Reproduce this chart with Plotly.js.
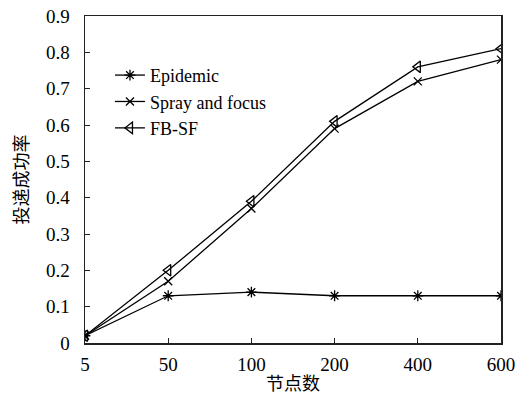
<!DOCTYPE html>
<html><head><meta charset="utf-8">
<script src="https://cdn.plot.ly/plotly-3.0.1.min.js"></script>
<style>body{margin:0;background:#fff}#c{width:516px;height:412px}</style>
</head><body><div id="c"></div>
<script>
var nodes = ['5','50','100','200','400','600'];
var epidemic = [0.02, 0.13, 0.14, 0.13, 0.13, 0.13];
var spray = [0.02, 0.17, 0.37, 0.59, 0.72, 0.78];
var fbsf = [0.02, 0.20, 0.39, 0.61, 0.76, 0.81];
var yTicks = [0,0.1,0.2,0.3,0.4,0.5,0.6,0.7,0.8,0.9];
var yTickText = ['0','0.1','0.2','0.3','0.4','0.5','0.6','0.7','0.8','0.9'];

function tr(name, y, sym, size){
  return {x:nodes, y:y, name:name, type:'scatter', mode:'lines+markers',
    line:{color:'#000', width:1.3},
    marker:{symbol:sym, size:size, color:'#000', line:{color:'#000', width:1.3}}};
}
var data = [
  tr('Epidemic', epidemic, 'asterisk-open', 9),
  tr('Spray and focus', spray, 'x-thin-open', 8),
  tr('FB-SF', fbsf, 'triangle-left-open', 10)
];
var serif = 'Liberation Serif';
var cjk = 'Noto Sans CJK SC';
var layout = {
  width:516, height:412,
  margin:{l:85, r:15, t:16, b:69},
  paper_bgcolor:'#fff', plot_bgcolor:'#fff',
  font:{family:serif, size:19, color:'#000'},
  showlegend:true,
  legend:{x:0.06, y:0.875, xanchor:'left', yanchor:'top', bgcolor:'rgba(0,0,0,0)',
    font:{family:serif, size:18, color:'#000'}, tracegroupgap:0, itemwidth:30},
  xaxis:{type:'category', range:[0,5], showline:true, mirror:true, linecolor:'#222', linewidth:1.5,
    ticks:'inside', ticklen:5, tickcolor:'#222', showgrid:false, zeroline:false,
    ticklabelstandoff:4,
    tickfont:{family:serif, size:19, color:'#000'},
    title:{text:'节点数', font:{family:cjk, size:18, color:'#000'}, standoff:3}},
  yaxis:{range:[0,0.9], tickvals:yTicks, ticktext:yTickText, showline:true, mirror:true, linecolor:'#222', linewidth:1.5,
    ticks:'inside', ticklen:5, tickcolor:'#222', showgrid:false, zeroline:false,
    ticklabelstandoff:10,
    tickfont:{family:serif, size:19, color:'#000'},
    title:{text:'投递成功率', font:{family:cjk, size:18, color:'#000'}, standoff:12}}
};
Plotly.newPlot('c', data, layout, {displayModeBar:false, staticPlot:true});
</script></body></html>
